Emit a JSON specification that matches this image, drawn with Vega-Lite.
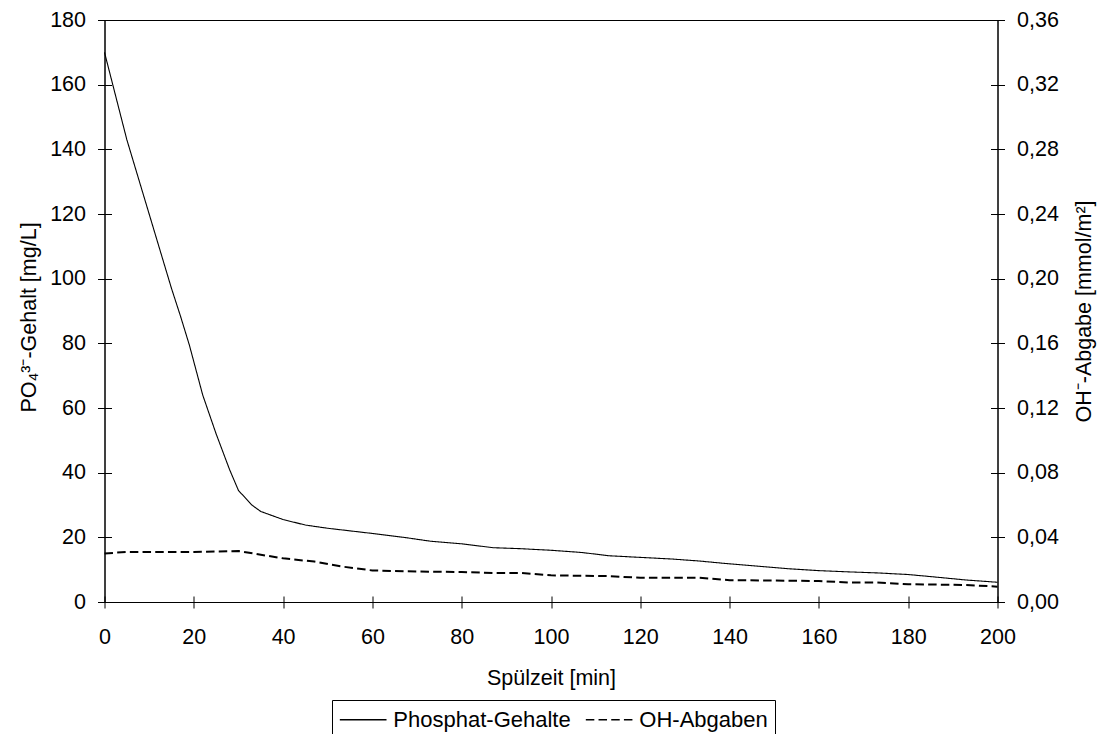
{
  "$schema": "https://vega.github.io/schema/vega-lite/v6.json",
  "autosize": {"type": "none"},
  "padding": {"left": 104.5, "top": 20, "right": 104.5, "bottom": 132},
  "width": 893,
  "height": 582,
  "background": "white",
  "config": {
    "font": "Liberation Sans",
    "view": {"stroke": "black", "strokeWidth": 1},
    "axis": {
      "domainColor": "black",
      "tickColor": "black",
      "labelColor": "black",
      "titleColor": "black",
      "labelFont": "Liberation Sans",
      "titleFont": "Liberation Sans",
      "labelFontSize": 21.5,
      "titleFontSize": 21.5,
      "titleFontWeight": "normal",
      "grid": false,
      "labelFlush": false,
      "labelOverlap": false,
      "tickSize": 7,
      "labelPadding": 12
    },
    "legend": {
      "labelFont": "Liberation Sans",
      "labelFontSize": 22,
      "labelColor": "black",
      "labelLimit": 400
    }
  },
  "datasets": {
    "phosphat": [
      {"t": 0, "v": 170}, {"t": 5, "v": 143}, {"t": 10, "v": 120}, {"t": 15, "v": 97},
      {"t": 17, "v": 88.5}, {"t": 19, "v": 79.5}, {"t": 22, "v": 64}, {"t": 25, "v": 52},
      {"t": 28, "v": 41}, {"t": 30, "v": 34.5}, {"t": 33, "v": 30}, {"t": 35, "v": 28},
      {"t": 40, "v": 25.5}, {"t": 45, "v": 23.8}, {"t": 50, "v": 22.8}, {"t": 55, "v": 22},
      {"t": 60, "v": 21.2}, {"t": 67, "v": 20}, {"t": 73, "v": 18.8}, {"t": 80, "v": 18},
      {"t": 87, "v": 16.8}, {"t": 93, "v": 16.5}, {"t": 100, "v": 16}, {"t": 107, "v": 15.3},
      {"t": 113, "v": 14.3}, {"t": 120, "v": 13.8}, {"t": 127, "v": 13.3}, {"t": 133, "v": 12.7},
      {"t": 140, "v": 11.8}, {"t": 147, "v": 11}, {"t": 153, "v": 10.3}, {"t": 160, "v": 9.7},
      {"t": 167, "v": 9.3}, {"t": 173, "v": 9}, {"t": 180, "v": 8.5}, {"t": 187, "v": 7.6},
      {"t": 193, "v": 6.8}, {"t": 200, "v": 6.1}
    ],
    "oh": [
      {"t": 0, "v": 0.030}, {"t": 5, "v": 0.031}, {"t": 20, "v": 0.031}, {"t": 30, "v": 0.0315},
      {"t": 40, "v": 0.027}, {"t": 47, "v": 0.025}, {"t": 53, "v": 0.022}, {"t": 60, "v": 0.0195},
      {"t": 67, "v": 0.019}, {"t": 80, "v": 0.0185}, {"t": 87, "v": 0.018}, {"t": 93, "v": 0.018},
      {"t": 100, "v": 0.0165}, {"t": 113, "v": 0.016}, {"t": 120, "v": 0.015}, {"t": 133, "v": 0.015},
      {"t": 140, "v": 0.0135}, {"t": 160, "v": 0.013}, {"t": 167, "v": 0.012}, {"t": 173, "v": 0.012},
      {"t": 180, "v": 0.011}, {"t": 193, "v": 0.0105}, {"t": 200, "v": 0.0095}
    ]
  },
  "layer": [
    {
      "data": {"name": "phosphat"},
      "mark": {"type": "line", "color": "black", "strokeWidth": 1.1},
      "encoding": {
        "x": {
          "field": "t",
          "type": "quantitative",
          "scale": {"domain": [0, 200], "nice": false},
          "axis": {
            "orient": "bottom",
            "title": "Spülzeit [min]",
            "values": [0, 20, 40, 60, 80, 100, 120, 140, 160, 180, 200],
            "tickSize": 6,
            "labelPadding": 18,
            "titleBaseline": "alphabetic",
            "titleY": 82.5
          }
        },
        "y": {
          "field": "v",
          "type": "quantitative",
          "scale": {"domain": [0, 180], "nice": false},
          "axis": {
            "orient": "left",
            "title": "PO₄³⁻-Gehalt [mg/L]",
            "values": [0, 20, 40, 60, 80, 100, 120, 140, 160, 180],
            "titleBaseline": "alphabetic",
            "titleX": -69.5,
            "titleY": 297
          }
        },
        "strokeDash": {
          "datum": "Phosphat-Gehalte",
          "type": "nominal",
          "scale": {"domain": ["Phosphat-Gehalte", "OH-Abgaben"], "range": [[1, 0], [8.5, 4.2]]},
          "legend": {
            "title": null,
            "orient": "none",
            "direction": "horizontal",
            "legendX": 227.5,
            "legendY": 680,
            "strokeColor": "black",
            "padding": 7,
            "symbolType": "M-1,0H3",
            "symbolSize": 545,
            "symbolStrokeColor": "black",
            "symbolStrokeWidth": 1.5,
            "columnPadding": 11,
            "labelOffset": 29.35
          }
        }
      }
    },
    {
      "data": {"name": "oh"},
      "mark": {"type": "line", "color": "black", "strokeWidth": 2},
      "encoding": {
        "x": {
          "field": "t",
          "type": "quantitative",
          "scale": {"domain": [0, 200], "nice": false},
          "axis": null
        },
        "y": {
          "field": "v",
          "type": "quantitative",
          "scale": {"domain": [0, 0.36], "nice": false},
          "axis": {
            "orient": "right",
            "title": "OH⁻-Abgabe [mmol/m²]",
            "values": [0, 0.04, 0.08, 0.12, 0.16, 0.2, 0.24, 0.28, 0.32, 0.36],
            "labelExpr": "replace(format(datum.value, '.2f'), '.', ',')",
            "titleAngle": 270,
            "titleBaseline": "alphabetic",
            "titleX": 93
          }
        },
        "strokeDash": {"datum": "OH-Abgaben", "type": "nominal"}
      }
    },
    {
      "data": {"name": "phosphat"},
      "mark": {"type": "line", "strokeOpacity": 0},
      "encoding": {
        "x": {
          "field": "t",
          "type": "quantitative",
          "scale": {"domain": [0, 200], "nice": false},
          "axis": {
            "orient": "bottom",
            "title": null,
            "labels": false,
            "domain": false,
            "values": [0, 20, 40, 60, 80, 100, 120, 140, 160, 180, 200],
            "tickSize": -6
          }
        },
        "y": {
          "field": "v",
          "type": "quantitative",
          "scale": {"domain": [0, 180], "nice": false},
          "axis": {
            "orient": "left",
            "title": null,
            "labels": false,
            "domain": false,
            "values": [0, 20, 40, 60, 80, 100, 120, 140, 160, 180],
            "tickSize": -7
          }
        }
      }
    },
    {
      "data": {"name": "oh"},
      "mark": {"type": "line", "strokeOpacity": 0},
      "encoding": {
        "x": {
          "field": "t",
          "type": "quantitative",
          "scale": {"domain": [0, 200], "nice": false},
          "axis": null
        },
        "y": {
          "field": "v",
          "type": "quantitative",
          "scale": {"domain": [0, 0.36], "nice": false},
          "axis": {
            "orient": "right",
            "title": null,
            "labels": false,
            "domain": false,
            "values": [0, 0.04, 0.08, 0.12, 0.16, 0.2, 0.24, 0.28, 0.32, 0.36],
            "tickSize": -7
          }
        }
      }
    }
  ],
  "resolve": {"scale": {"x": "independent", "y": "independent"}}
}
